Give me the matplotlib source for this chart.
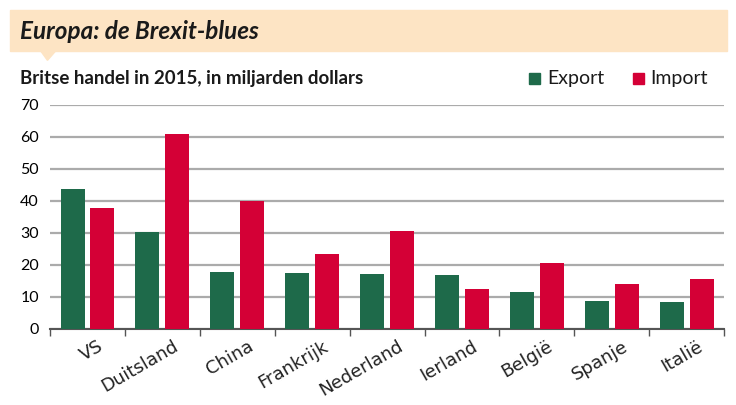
import matplotlib.pyplot as plt
import numpy as np
from matplotlib.patches import Rectangle, Polygon
from matplotlib.transforms import ScaledTranslation

countries = ['VS', 'Duitsland', 'China', 'Frankrijk', 'Nederland',
             'Ierland', 'België', 'Spanje', 'Italië']
export = [43.7, 30.2, 17.9, 17.6, 17.3, 16.7, 11.5, 8.8, 8.3]
imports = [37.7, 60.8, 40.0, 23.5, 30.7, 12.4, 20.5, 14.0, 15.6]
yticks = [0, 10, 20, 30, 40, 50, 60, 70]

green = '#1e6a4a'
red = '#d40036'
band = '#fde4c4'

fig = plt.figure(figsize=(7.36, 4.05), dpi=100)
ax = fig.add_axes([0.068, 0.188, 0.916, 0.553])

x = np.arange(len(countries))
w = 0.32
ax.bar(x - 0.2, export, width=w, color=green, zorder=3)
ax.bar(x + 0.2, imports, width=w, color=red, zorder=3)

ax.set_xlim(-0.5, len(countries) - 0.5)
ax.set_ylim(0, 70)
ax.set_yticks(yticks)
ax.set_yticklabels([str(v) for v in yticks], fontsize=11.5, family='Lato')
ax.yaxis.grid(True, color='#ababab', lw=1.6, zorder=0)
ax.tick_params(axis='y', length=0, pad=8)
ax.set_xticks(x)
ax.set_xticklabels(countries, rotation=30, ha='right', rotation_mode='anchor',
                   fontsize=13, family='DejaVu Sans', color='#222222')
ax.tick_params(axis='x', which='major', length=0, pad=6)
# shift the labels a bit to the right, like the original
shift = ScaledTranslation(0.10, 0, fig.dpi_scale_trans)
for lbl in ax.get_xticklabels():
    lbl.set_transform(lbl.get_transform() + shift)
ax.set_xticks(np.arange(-0.5, len(countries)), minor=True)
ax.tick_params(axis='x', which='minor', length=5, color='#555555', width=1)
for s in ['top', 'right', 'left']:
    ax.spines[s].set_visible(False)
ax.spines['bottom'].set_color('#555555')
ax.spines['bottom'].set_linewidth(1.5)

# header band
fig.patches.append(Rectangle((0.0136, 0.874), 0.974, 0.101, transform=fig.transFigure,
                             color=band, zorder=0))
fig.patches.append(Polygon([(0.055, 0.875), (0.076, 0.875), (0.0645, 0.851)],
                           transform=fig.transFigure, color=band, zorder=0))
fig.text(0.027, 0.921, 'Europa: de Brexit-blues', fontsize=17.5, fontweight='bold',
         style='italic', family='Lato', va='center', color='#1a1a1a')
fig.text(0.027, 0.805, 'Britse handel in 2015, in miljarden dollars', fontsize=13.5,
         fontweight='bold', family='Lato', va='center', color='#1a1a1a')

# legend
fig.patches.append(Rectangle((0.719, 0.793), 0.015, 0.027, transform=fig.transFigure, color=green))
fig.text(0.744, 0.805, 'Export', fontsize=14, family='Lato', va='center', color='#1a1a1a')
fig.patches.append(Rectangle((0.860, 0.793), 0.015, 0.027, transform=fig.transFigure, color=red))
fig.text(0.884, 0.805, 'Import', fontsize=14, family='Lato', va='center', color='#1a1a1a')

fig.savefig('out.png', dpi=100)
